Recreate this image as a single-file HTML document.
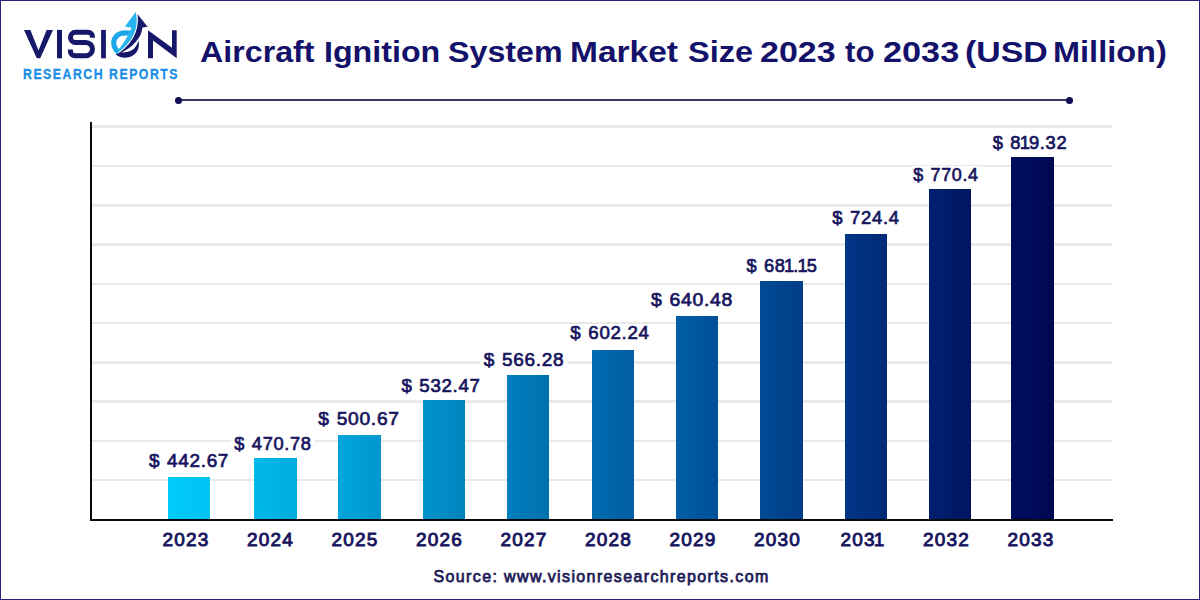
<!DOCTYPE html>
<html><head><meta charset="utf-8">
<style>
html,body{margin:0;padding:0;}
body{width:1200px;height:600px;position:relative;overflow:hidden;background:#fff;font-family:"Liberation Sans",sans-serif;}
.frame{position:absolute;left:0;top:0;width:1200px;height:600px;box-sizing:border-box;border-style:solid;border-color:#2a2278;border-width:1px;}
.logo{position:absolute;left:0;top:0;}
.rr{position:absolute;left:22.8px;top:66.66px;font-size:14px;line-height:1;font-weight:bold;color:#1b8de6;white-space:nowrap;letter-spacing:1.7px;transform:scaleX(0.88);transform-origin:0 0;-webkit-text-stroke:0.3px #1b8de6;}
.tw{position:absolute;top:36.52px;font-size:30px;line-height:1;font-weight:bold;color:#14116a;white-space:nowrap;transform-origin:0 0;}
.tline{position:absolute;left:179px;top:99.4px;width:891px;height:2px;background:#3b3666;}
.dot{position:absolute;width:7px;height:7px;border-radius:50%;background:#100b52;top:96.8px;}
.yaxis{position:absolute;left:89.8px;top:121.7px;width:1.8px;height:399px;background:#0b0b0b;}
.xaxis{position:absolute;left:89.8px;top:519px;width:1022.9px;height:1.8px;background:#0b0b0b;}
.grid{position:absolute;left:92px;width:1020px;height:2.5px;background:#e9e9e9;}
.bar{position:absolute;width:42.3px;}
.val{position:absolute;width:120px;text-align:center;font-size:19.2px;line-height:1;font-weight:normal;color:#16145e;white-space:nowrap;-webkit-text-stroke:0.7px #16145e;letter-spacing:0.7px;word-spacing:1px;}
.val span{background:linear-gradient(transparent 1.9px,#fff 1.9px);padding:0 3px;}
.val i{font-style:normal;margin:0 -1.6px;}
.yr{position:absolute;width:80px;text-align:center;font-size:19px;line-height:1;font-weight:normal;color:#16145e;white-space:nowrap;letter-spacing:1.2px;-webkit-text-stroke:0.9px #16145e;}
.yr i{font-style:normal;margin:0 -2px;}
.src{position:absolute;left:433.5px;top:569.46px;font-size:16px;line-height:1;font-weight:normal;color:#201b58;white-space:nowrap;letter-spacing:1.37px;-webkit-text-stroke:0.75px #201b58;}
</style></head><body>
<div class="frame"></div>
<svg class="logo" width="200" height="90" viewBox="0 0 200 90">
<path fill="#16186a" d="M24 29.9 L30.4 29.9 L38.5 50.5 L46.6 29.9 L53 29.9 L40.2 58.3 L36.8 58.3 Z"/>
<rect fill="#16186a" x="57" y="29.9" width="5" height="28.4"/>
<path fill="none" stroke="#16186a" stroke-width="5" d="M92.5 37.8 L92.5 36.7 A4.5 4.5 0 0 0 88 32.2 L75.5 32.2 A5.1 5.1 0 0 0 75.5 42.4 L85.8 42.4 A6.7 6.7 0 0 1 85.8 55.8 L75 55.8 A4.6 4.6 0 0 1 70.4 51.2 L70.4 49.6"/>
<rect fill="#16186a" x="101.1" y="29.9" width="4.8" height="28.4"/>
<path fill="#16186a" d="M148 30.2 L172 47.8 L172 30.2 L176.7 30.2 L176.7 58.3 L153 40.4 L153 58.3 L148 58.3 Z"/>
<path fill="#16186a" d="M138.4 40.2 C140.2 47 137.5 54 130.5 56.8 C124.5 58.6 119.3 57.8 115.8 54.6 L118.5 52.8 C122.5 52.8 127 52.5 131.5 50.6 C135 48.5 137.6 44.6 138.4 40.2 Z"/>
<path fill="#16186a" d="M137.4 14.1 L147.6 26.7 L142.4 27.6 C141.8 37 134 47.5 117.8 54.2 L116 54 C133 43.5 138.6 30 137.4 14.1 Z"/>
<path fill="none" stroke="#fff" stroke-width="2.2" d="M135.7 11.9 C138.6 24 136 40 117.3 52.8"/>
<path fill="none" stroke="#1ea6ea" stroke-width="5.2" d="M130.5 33.2 C124 32.2 117 33.3 114.5 38.8 C112.4 44 114.4 49 118.6 52.2"/>
<path fill="#27b4ef" d="M135.7 11.9 C138.6 24 136 40 117.3 52.8 L117.6 50 C121 47.5 125.5 41 131.6 27.8 L124.9 26.5 Z"/>
</svg>
<div class="rr" id="rr">RESEARCH REPORTS</div>
<div class="tw" style="left:200.43px;transform:scaleX(1.0736)">Aircraft</div>
<div class="tw" style="left:323.95px;transform:scaleX(1.0733)">Ignition</div>
<div class="tw" style="left:447.63px;transform:scaleX(1.0731)">System</div>
<div class="tw" style="left:569.97px;transform:scaleX(1.1168)">Market</div>
<div class="tw" style="left:687.62px;transform:scaleX(1.0828)">Size</div>
<div class="tw" style="left:760.17px;transform:scaleX(1.1323)">2023</div>
<div class="tw" style="left:844.70px;transform:scaleX(1.0407)">to</div>
<div class="tw" style="left:882.56px;transform:scaleX(1.1415)">2033</div>
<div class="tw" style="left:965.47px;transform:scaleX(1.1296)">(USD</div>
<div class="tw" style="left:1053.23px;transform:scaleX(1.0833)">Million)</div>
<div class="tline"></div>
<div class="dot" style="left:175.2px"></div>
<div class="dot" style="left:1066.3px"></div>
<div class="grid" style="top:125.45px"></div>
<div class="grid" style="top:164.73px"></div>
<div class="grid" style="top:204.01px"></div>
<div class="grid" style="top:243.29px"></div>
<div class="grid" style="top:282.57px"></div>
<div class="grid" style="top:321.85px"></div>
<div class="grid" style="top:361.13px"></div>
<div class="grid" style="top:400.41px"></div>
<div class="grid" style="top:439.69px"></div>
<div class="grid" style="top:478.97px"></div>
<div class="bar" style="left:168.00px;top:477.00px;height:43.00px;background:linear-gradient(90deg,#00cbf9,#00c3f2)"></div>
<div class="val" style="left:129.00px;top:451.46px;transform:scaleX(0.9861)"><span>$ 442.67</span></div>
<div class="yr" style="left:146.00px;top:530.43px">2023</div>
<div class="bar" style="left:254.30px;top:458.40px;height:61.60px;background:linear-gradient(90deg,#00b9ec,#00acdf)"></div>
<div class="val" style="left:212.70px;top:434.16px;transform:scaleX(0.9525)"><span>$ 470.78</span></div>
<div class="yr" style="left:230.50px;top:530.43px">2024</div>
<div class="bar" style="left:338.25px;top:434.75px;height:85.25px;background:linear-gradient(90deg,#00a6dc,#0097cd)"></div>
<div class="val" style="left:299.00px;top:408.76px;transform:scaleX(1.0000)"><span>$ 500.67</span></div>
<div class="yr" style="left:315.00px;top:530.43px">2025</div>
<div class="bar" style="left:423.20px;top:399.50px;height:120.50px;background:linear-gradient(90deg,#0094cc,#0083bd)"></div>
<div class="val" style="left:381.10px;top:375.76px;transform:scaleX(0.9722)"><span>$ 532.47</span></div>
<div class="yr" style="left:399.50px;top:530.43px">2026</div>
<div class="bar" style="left:507.20px;top:374.70px;height:145.30px;background:linear-gradient(90deg,#007fbe,#006fae)"></div>
<div class="val" style="left:463.90px;top:350.26px;transform:scaleX(0.9899)"><span>$ 566.28</span></div>
<div class="yr" style="left:484.00px;top:530.43px">2027</div>
<div class="bar" style="left:591.50px;top:350.00px;height:170.00px;background:linear-gradient(90deg,#006cb0,#005ea2)"></div>
<div class="val" style="left:549.70px;top:323.36px;transform:scaleX(0.9750)"><span>$ 602.24</span></div>
<div class="yr" style="left:568.50px;top:530.43px">2028</div>
<div class="bar" style="left:676.20px;top:315.80px;height:204.20px;background:linear-gradient(90deg,#0060a6,#004f97)"></div>
<div class="val" style="left:631.70px;top:289.76px;transform:scaleX(1.0100)"><span>$ 640.48</span></div>
<div class="yr" style="left:653.00px;top:530.43px">2029</div>
<div class="bar" style="left:760.30px;top:281.10px;height:238.90px;background:linear-gradient(90deg,#004a94,#003d86)"></div>
<div class="val" style="left:722.00px;top:255.76px;transform:scaleX(0.9493)"><span>$ 68<i>1</i>.<i>1</i>5</span></div>
<div class="yr" style="left:737.50px;top:530.43px">2030</div>
<div class="bar" style="left:844.80px;top:233.90px;height:286.10px;background:linear-gradient(90deg,#003686,#002a78)"></div>
<div class="val" style="left:805.70px;top:208.46px;transform:scaleX(0.9618)"><span>$ 724.4</span></div>
<div class="yr" style="left:822.00px;top:530.43px">203<i>1</i></div>
<div class="bar" style="left:928.80px;top:188.90px;height:331.10px;background:linear-gradient(90deg,#00206e,#001562)"></div>
<div class="val" style="left:885.90px;top:164.76px;transform:scaleX(0.9362)"><span>$ 770.4</span></div>
<div class="yr" style="left:906.50px;top:530.43px">2032</div>
<div class="bar" style="left:1011.40px;top:156.50px;height:363.50px;background:linear-gradient(90deg,#000e5e,#000754)"></div>
<div class="val" style="left:970.00px;top:132.51px;transform:scaleX(0.9539)"><span>$ 8<i>1</i>9.32</span></div>
<div class="yr" style="left:991.00px;top:530.43px">2033</div>
<div class="yaxis"></div>
<div class="xaxis"></div>
<div class="src" id="src">Source: www.visionresearchreports.com</div>
</body></html>
